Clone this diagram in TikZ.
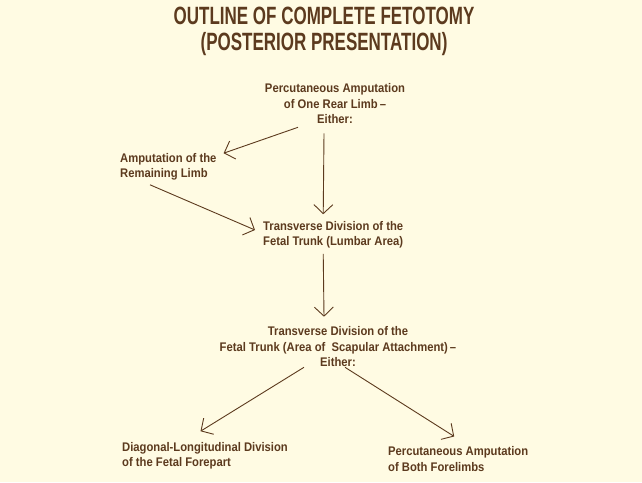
\documentclass[tikz,border=0pt]{standalone}
\usepackage{fontspec}
\usepackage{xcolor}
\usetikzlibrary{arrows.meta}
\setmainfont{Liberation Sans}
\newfontfamily\titlefont{Liberation Sans}[FakeStretch=0.68]
\newfontfamily\stagefont{Liberation Sans}[FakeStretch=0.9]
\definecolor{paper}{HTML}{FFFBE3}
\definecolor{ink}{HTML}{5C3A1E}

\begin{document}
\begin{tikzpicture}[x=1pt, y=-1pt,
    stage/.style={inner sep=0pt, text=ink, font=\stagefont\bfseries\fontsize{12.5}{15.5}\selectfont},
    arr/.style={draw=ink, line width=0.9pt, -{Straight Barb[length=9pt, width=19pt]}}]
    % Paper
    \fill[paper] (0,0) rectangle (642,482);

    % Title
    \node (title) [inner sep=0pt, text=ink, align=center, font=\titlefont\bfseries\fontsize{25}{26}\selectfont] at (324,31)
        {OUTLINE OF COMPLETE FETOTOMY\\(POSTERIOR PRESENTATION)};

    % Rear limb stages
    \node (rear) [stage, align=center] at (335,104) {Percutaneous Amputation\\of One Rear Limb\,–\\Either:};
    \node (remain) [stage, align=left, anchor=west] at (120,167) {Amputation of the\\Remaining Limb};
    \node (lumbar) [stage, align=left, anchor=west] at (263,235) {Transverse Division of the\\Fetal Trunk (Lumbar Area)};

    % Forepart stages
    \node (scapula) [stage, align=center] at (338,347) {Transverse Division of the\\Fetal Trunk (Area of \ Scapular Attachment)\,–\\Either:};
    \node (diagonal) [stage, align=left, anchor=west] at (122,456) {Diagonal-Longitudinal Division\\of the Fetal Forepart};
    \node (forelimbs) [stage, align=left, anchor=west] at (388,459) {Percutaneous Amputation\\of Both Forelimbs};

    % Arrows
    \draw[arr] ([xshift=-37pt, yshift=-3pt]rear.south) -- ([xshift=7pt]remain.north east);
    \draw[arr] ([xshift=-11pt, yshift=-9pt]rear.south) -- ([xshift=-10pt, yshift=7pt]lumbar.north);
    \draw[arr] ([xshift=30pt, yshift=-4pt]remain.south west) -- ([xshift=-8pt, yshift=5pt]lumbar.west);
    \draw[arr] ([xshift=-10pt, yshift=-5pt]lumbar.south) -- ([xshift=-14pt, yshift=10pt]scapula.north);
    \draw[arr] ([xshift=-34pt]scapula.south) -- ([xshift=-4.5pt, yshift=11pt]diagonal.north);
    \draw[arr] ([xshift=7pt]scapula.south) -- ([xshift=-4pt, yshift=10pt]forelimbs.north);
\end{tikzpicture}
\end{document}
